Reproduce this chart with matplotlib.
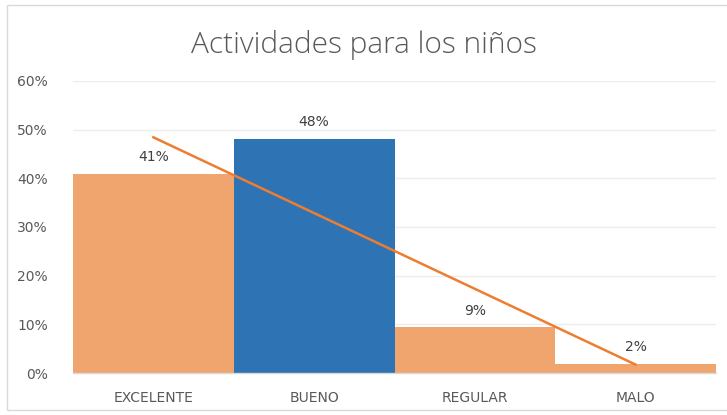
import matplotlib.pyplot as plt
import numpy as np
from matplotlib.patches import Rectangle

categorias = ["EXCELENTE", "BUENO", "REGULAR", "MALO"]
valores = [0.409, 0.481, 0.094, 0.019]
etiquetas = ["41%", "48%", "9%", "2%"]
colores = ["#F1A56E", "#2E74B5", "#F1A56E", "#F1A56E"]

fig = plt.figure(figsize=(7.27, 4.15), dpi=100)
fig.patches.append(Rectangle((7/727, 5/415), 1.0, 1 - 10/415, transform=fig.transFigure,
                             fill=False, edgecolor="#D9D9D9", linewidth=1.0))

ax = fig.add_axes([73/727, 42/415, 643/727, 292/415])
x = np.arange(len(categorias))
ax.bar(x, valores, width=1.0, color=colores, zorder=2)

# linea de tendencia lineal
m, b = np.polyfit(x, valores, 1)
ax.plot(x, m * x + b, color="#ED7D31", linewidth=1.8, zorder=3)

for xi, v, t in zip(x, valores, etiquetas):
    ax.annotate(t, (xi, v), xytext=(0, 7), textcoords="offset points",
                ha="center", va="bottom", fontsize=10, color="#404040")

ax.set_xlim(-0.5, len(categorias) - 0.5)
ax.set_ylim(0, 0.6)
ax.set_yticks(np.arange(0, 0.61, 0.1))
ax.set_yticklabels([f"{int(round(t*100))}%" for t in np.arange(0, 0.61, 0.1)])
ax.set_xticks(x)
ax.set_xticklabels(categorias)
ax.tick_params(axis="both", length=0, labelsize=10, labelcolor="#595959")
ax.tick_params(axis="x", pad=13)
ax.tick_params(axis="y", pad=18)
ax.grid(axis="y", color="#EDEDED", linewidth=1.0, zorder=0)
for s in ["top", "right", "left"]:
    ax.spines[s].set_visible(False)
ax.spines["bottom"].set_color("#D9D9D9")
ax.spines["bottom"].set_linewidth(1.0)
ax.spines["bottom"].set_zorder(4)

fig.text(0.5, 1 - 45/415, "Actividades para los niños", ha="center", va="center",
         fontsize=21.5, color="#595959", fontfamily="Open Sans", fontweight="light")

fig.savefig("out.png", dpi=100)
